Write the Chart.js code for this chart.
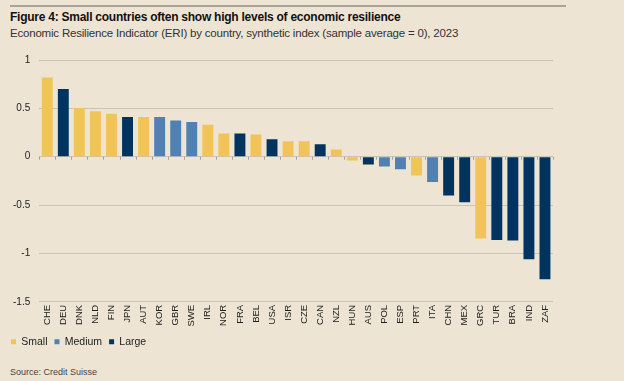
<!DOCTYPE html>
<html>
<head>
<meta charset="utf-8">
<script src="https://cdn.jsdelivr.net/npm/chart.js@4"></script>
<style>
  html, body { margin: 0; padding: 0; background: #EEE4D4; width: 624px; height: 381px; overflow: hidden; font-family: "Liberation Sans", Arial, sans-serif; }
  #topline { position: absolute; left: 10px; top: 5px; width: 556px; height: 2px; background: #A9A399; }
  #title { position: absolute; left: 10px; top: 10px; font-size: 12px; letter-spacing: -0.25px; font-weight: bold; color: #111; white-space: nowrap; }
  #subtitle { position: absolute; left: 10px; top: 27px; font-size: 11.5px; letter-spacing: -0.2px; color: #333; white-space: nowrap; }
  #source { position: absolute; left: 10px; top: 367px; font-size: 9px; color: #444; white-space: nowrap; }
  #wrap { position: absolute; left: 0; top: 45px; width: 624px; height: 312px; }
</style>
</head>
<body>
<div id="topline"></div>
<div id="title">Figure 4: Small countries often show high levels of economic resilience</div>
<div id="subtitle">Economic Resilience Indicator (ERI) by country, synthetic index (sample average = 0), 2023</div>
<div id="wrap"><canvas id="c"></canvas></div>
<div id="source">Source: Credit Suisse</div>
<script>
const countries = ["CHE","DEU","DNK","NLD","FIN","JPN","AUT","KOR","GBR","SWE","IRL","NOR","FRA","BEL","USA","ISR","CZE","CAN","NZL","HUN","AUS","POL","ESP","PRT","ITA","CHN","MEX","GRC","TUR","BRA","IND","ZAF"];
const eri = [0.82,0.70,0.505,0.47,0.445,0.41,0.41,0.41,0.375,0.36,0.33,0.24,0.24,0.23,0.18,0.16,0.16,0.13,0.075,-0.04,-0.08,-0.10,-0.13,-0.195,-0.26,-0.40,-0.47,-0.845,-0.86,-0.865,-1.06,-1.265];
const sizeGroup = ["Small","Large","Small","Small","Small","Large","Small","Medium","Medium","Medium","Small","Small","Large","Small","Large","Small","Small","Large","Small","Small","Large","Medium","Medium","Small","Medium","Large","Large","Small","Large","Large","Large","Large"];
const groups = ["Small","Medium","Large"];
const groupColors = ["#F1C458","#5180B3","#00345F"];
const yTicks = [1,0.5,0,-0.5,-1,-1.5];

const datasets = groups.map((g, gi) => ({
  label: g,
  data: eri.map((v, i) => sizeGroup[i] === g ? v : null),
  backgroundColor: groupColors[gi],
  borderWidth: 0,
  grouped: false,
  categoryPercentage: 1,
  barPercentage: 0.68
}));

const zeroTicks = {
  id: 'zeroTicks',
  afterDatasetsDraw(chart) {
    const x = chart.scales.x, y = chart.scales.y, ctx = chart.ctx;
    const y0 = y.getPixelForValue(0);
    const n = countries.length;
    const step = (x.right - x.left) / n;
    ctx.save();
    ctx.strokeStyle = '#A9A399';
    ctx.lineWidth = 1;
    ctx.beginPath();
    for (let i = 0; i <= n; i++) {
      const px = Math.round(x.left + i * step) + 0.5;
      ctx.moveTo(px, y0);
      ctx.lineTo(px, y0 + 3);
    }
    ctx.stroke();
    ctx.restore();
  }
};

const FONT = '"Liberation Sans", Arial, sans-serif';

new Chart(document.getElementById('c'), {
  type: 'bar',
  data: { labels: countries, datasets },
  plugins: [zeroTicks],
  options: {
    responsive: true,
    maintainAspectRatio: false,
    animation: false,
    layout: { padding: { left: 4, right: 71, top: 5, bottom: 0 } },
    plugins: {
      legend: {
        position: 'bottom',
        align: 'start',
        labels: {
          usePointStyle: true,
          pointStyle: 'rect',
          boxWidth: 5,
          boxHeight: 5,
          padding: 7,
          color: '#222',
          font: { family: FONT, size: 10.5 }
        }
      },
      tooltip: { enabled: false }
    },
    scales: {
      x: {
        grid: { display: false, drawTicks: false },
        border: { display: false },
        ticks: {
          autoSkip: false,
          minRotation: 90,
          maxRotation: 90,
          crossAlign: 'center',
          padding: 3,
          color: '#222',
          font: { family: FONT, size: 9.5 }
        }
      },
      y: {
        min: -1.5,
        max: 1,
        afterBuildTicks(axis) { axis.ticks = yTicks.map(v => ({ value: v })); },
        grid: { color: '#CCC3B5', lineWidth: 1, drawTicks: false },
        border: { display: false },
        ticks: {
          padding: 9,
          color: '#222',
          font: { family: FONT, size: 10 },
          callback: v => String(v)
        }
      }
    }
  }
});
</script>
</body>
</html>
